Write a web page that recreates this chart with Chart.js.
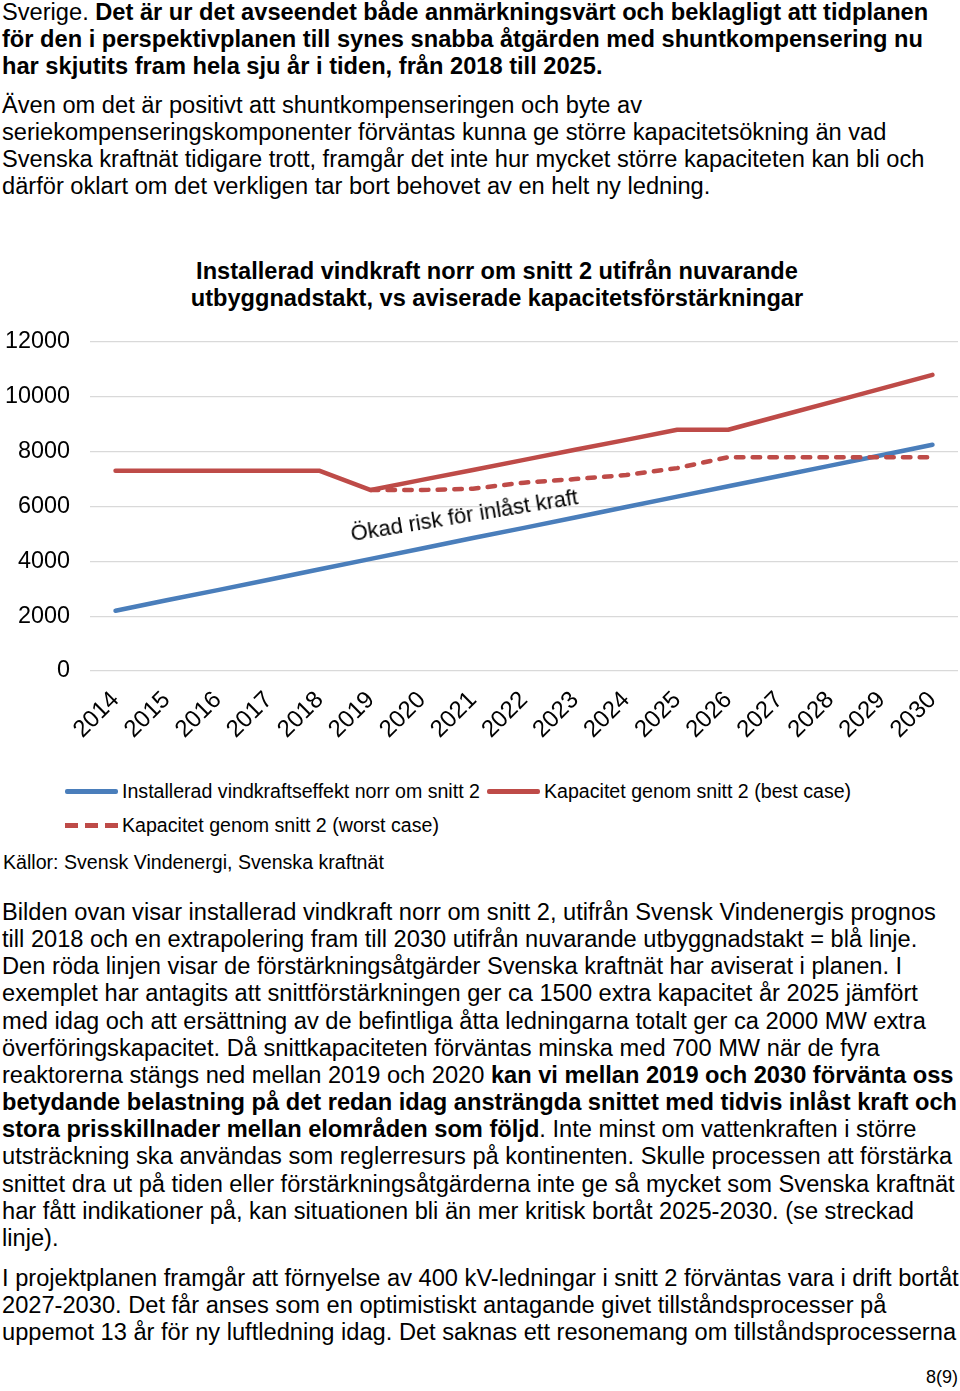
<!DOCTYPE html>
<html lang="sv">
<head>
  <meta charset="UTF-8">
  <title>Installerad vindkraft norr om snitt 2</title>
  <script src="https://cdn.jsdelivr.net/npm/chart.js"></script>
  <style>
    body {
      margin: 0;
      background: #fff;
      font-family: "Liberation Sans", Arial, sans-serif;
      color: #000;
    }
    .page { position: relative; width: 960px; height: 1391px; overflow: hidden; }
    .txt {
      position: absolute;
      left: 2px;
      font-size: 23.65px;
      line-height: 27.15px;
      white-space: nowrap;
    }
    .title {
      position: absolute;
      left: 0;
      width: 994px;
      top: 258px;
      text-align: center;
      font-weight: bold;
      font-size: 23.6px;
      line-height: 27px;
      white-space: nowrap;
    }
    .chartBox { position: absolute; left: 0; top: 320px; width: 960px; height: 440px; }
    .note {
      position: absolute;
      left: 353px;
      top: 521px;
      font-size: 21.9px;
      white-space: nowrap;
      transform: rotate(-9.3deg);
      transform-origin: left bottom;
    }
    .leg { position: absolute; font-size: 19.6px; line-height: 22px; white-space: nowrap; }
    .swatch { position: absolute; width: 53px; height: 4.5px; border-radius: 2px; }
    .small { position: absolute; font-size: 19.6px; line-height: 22px; white-space: nowrap; }
  </style>
</head>
<body>
<div class="page">

  <div class="txt" style="top:-1px">
    Sverige. <b>Det är ur det avseendet både anmärkningsvärt och beklagligt att tidplanen</b><br>
    <b>för den i perspektivplanen till synes snabba åtgärden med shuntkompensering nu</b><br>
    <b>har skjutits fram hela sju år i tiden, från 2018 till 2025.</b>
  </div>

  <div class="txt" style="top:92px">
    Även om det är positivt att shuntkompenseringen och byte av<br>
    seriekompenseringskomponenter förväntas kunna ge större kapacitetsökning än vad<br>
    Svenska kraftnät tidigare trott, framgår det inte hur mycket större kapaciteten kan bli och<br>
    därför oklart om det verkligen tar bort behovet av en helt ny ledning.
  </div>

  <div class="title">
    Installerad vindkraft norr om snitt 2 utifrån nuvarande<br>
    utbyggnadstakt, vs aviserade kapacitetsförstärkningar
  </div>

  <div class="chartBox"><canvas id="lineChart"></canvas></div>

  <div class="note">Ökad risk för inlåst kraft</div>

  <!-- legend -->
  <div class="swatch" style="left:65px; top:789px; background:#4a7ebb"></div>
  <div class="leg" style="left:122px; top:780px">Installerad vindkraftseffekt norr om snitt 2</div>
  <div class="swatch" style="left:487px; top:789px; background:#be4b48"></div>
  <div class="leg" style="left:544px; top:780px">Kapacitet genom snitt 2 (best case)</div>
  <div class="swatch" style="left:65px; top:823px; border-radius:0;
       background:repeating-linear-gradient(90deg, #be4b48 0 13px, transparent 13px 20px)"></div>
  <div class="leg" style="left:122px; top:814px">Kapacitet genom snitt 2 (worst case)</div>

  <div class="small" style="left:3px; top:851px">Källor: Svensk Vindenergi, Svenska kraftnät</div>

  <div class="txt" style="top:899px">
    Bilden ovan visar installerad vindkraft norr om snitt 2, utifrån Svensk Vindenergis prognos<br>
    till 2018 och en extrapolering fram till 2030 utifrån nuvarande utbyggnadstakt = blå linje.<br>
    Den röda linjen visar de förstärkningsåtgärder Svenska kraftnät har aviserat i planen. I<br>
    exemplet har antagits att snittförstärkningen ger ca 1500 extra kapacitet år 2025 jämfört<br>
    med idag och att ersättning av de befintliga åtta ledningarna totalt ger ca 2000 MW extra<br>
    överföringskapacitet. Då snittkapaciteten förväntas minska med 700 MW när de fyra<br>
    reaktorerna stängs ned mellan 2019 och 2020 <b>kan vi mellan 2019 och 2030 förvänta oss</b><br>
    <b>betydande belastning på det redan idag ansträngda snittet med tidvis inlåst kraft och</b><br>
    <b>stora prisskillnader mellan elområden som följd</b>. Inte minst om vattenkraften i större<br>
    utsträckning ska användas som reglerresurs på kontinenten. Skulle processen att förstärka<br>
    snittet dra ut på tiden eller förstärkningsåtgärderna inte ge så mycket som Svenska kraftnät<br>
    har fått indikationer på, kan situationen bli än mer kritisk bortåt 2025-2030. (se streckad<br>
    linje).
  </div>

  <div class="txt" style="top:1265px">
    I projektplanen framgår att förnyelse av 400 kV-ledningar i snitt 2 förväntas vara i drift bortåt<br>
    2027-2030. Det får anses som en optimistiskt antagande givet tillståndsprocesser på<br>
    uppemot 13 år för ny luftledning idag. Det saknas ett resonemang om tillståndsprocesserna
  </div>

  <div class="small" style="right:2px; top:1366px; font-size:18px">8(9)</div>
</div>

<script>
  // years on the x axis
  const years = ['2014', '2015', '2016', '2017', '2018', '2019', '2020', '2021', '2022',
                 '2023', '2024', '2025', '2026', '2027', '2028', '2029', '2030'];

  // installed wind power north of cut 2 (MW)
  const installerad = [2200, 2580, 2950, 3330, 3710, 4090, 4470, 4850, 5220,
                       5600, 5980, 6360, 6740, 7110, 7490, 7870, 8250];

  // capacity through cut 2, best case
  const bestCase = [7300, 7300, 7300, 7300, 7300, 6600, 6970, 7330, 7700,
                    8070, 8430, 8800, 8800, 9300, 9800, 10300, 10800];

  // capacity through cut 2, worst case (starts 2019)
  const worstCase = [null, null, null, null, null, 6600, 6600, 6650, 6870,
                     7000, 7150, 7400, 7800, 7800, 7800, 7800, 7800];

  const yMin = 0;
  const yMax = 12000;
  const yStep = 2000;

  const font = 'Liberation Sans';

  const config = {
    type: 'line',
    data: {
      labels: years,
      datasets: [
        {
          label: 'Installerad vindkraftseffekt norr om snitt 2',
          data: installerad,
          borderColor: '#4a7ebb',
          borderWidth: 4.5,
          order: 2
        },
        {
          label: 'Kapacitet genom snitt 2 (best case)',
          data: bestCase,
          borderColor: '#be4b48',
          borderWidth: 4.5,
          order: 1
        },
        {
          label: 'Kapacitet genom snitt 2 (worst case)',
          data: worstCase,
          borderColor: '#be4b48',
          borderWidth: 4.5,
          borderDash: [7.5, 9.2],
          order: 0
        }
      ]
    },
    options: {
      responsive: true,
      maintainAspectRatio: false,
      animation: false,
      elements: {
        point: { radius: 0, hoverRadius: 0 },
        line: { tension: 0, borderCapStyle: 'round', borderJoinStyle: 'round', fill: false }
      },
      layout: { padding: { top: 22, right: 2, left: 0, bottom: 0 } },
      plugins: {
        legend: { display: false },
        title: { display: false },
        tooltip: { enabled: false }
      },
      scales: {
        x: {
          offset: true,
          grid: { display: false, drawTicks: false },
          border: { display: false },
          ticks: {
            autoSkip: false,
            minRotation: 45,
            maxRotation: 45,
            padding: 15,
            color: '#000',
            font: { family: font, size: 24 }
          },
          afterFit: function(scale) {
            scale.height = 89;
            // rotated labels hang to the left, no extra room needed on the right
            scale.paddingLeft = 0;
            scale.paddingRight = 0;
          }
        },
        y: {
          min: yMin,
          max: yMax,
          grid: { color: '#d9d9d9', lineWidth: 1.3, drawTicks: false },
          border: { display: false },
          ticks: {
            stepSize: yStep,
            padding: 20,
            color: '#000',
            font: { family: font, size: 23.4 },
            callback: function(value) { return String(value); }
          },
          afterFit: function(scale) {
            scale.width = 90;
            // keep the label padding from pushing the plot area down
            scale.paddingTop = 8;
            scale.paddingBottom = 8;
          }
        }
      }
    }
  };

  let lineChart = new Chart(document.getElementById('lineChart'), config);
</script>
</body>
</html>
